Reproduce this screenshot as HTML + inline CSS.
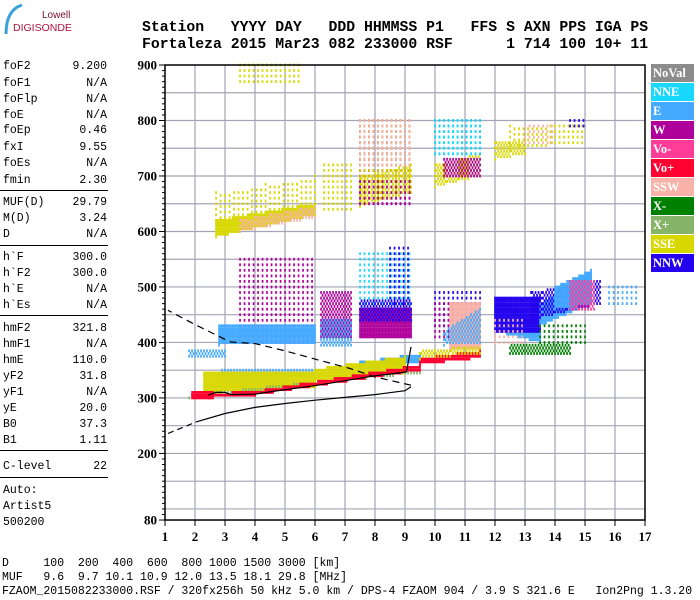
<!DOCTYPE html>
<html><head><meta charset="utf-8">
<style>
html,body{margin:0;padding:0;background:#fff;}
body{width:700px;height:600px;position:relative;overflow:hidden;font-family:"Liberation Mono",monospace;}
.hdr{position:absolute;left:142px;font-family:"Liberation Mono",monospace;font-weight:bold;font-size:14.8px;white-space:pre;color:#000;}
.lp{position:absolute;left:3px;width:104px;font-size:11.5px;height:14px;line-height:14px;color:#000;}
.lp span.v{position:absolute;right:0;}
.sep{position:absolute;left:0;width:108px;height:1px;background:#000;}
.bt{position:absolute;left:2px;font-size:11.5px;white-space:pre;color:#000;}
.leg{position:absolute;left:651px;width:43px;height:18px;color:#fff;font-family:"Liberation Serif",serif;font-weight:bold;font-size:12.5px;line-height:18px;padding-left:2px;box-sizing:border-box;}
</style></head>
<body>
<div style="position:absolute;left:0;top:0;width:70px;height:40px;">
<svg width="70" height="40"><path d="M22 5 Q6 10 6 34" stroke="#3aa0d8" stroke-width="3" fill="none"/></svg>
<div style="position:absolute;left:42px;top:10px;font-family:'Liberation Sans',sans-serif;font-size:10px;color:#7a1030;">Lowell</div>
<div style="position:absolute;left:13px;top:22px;font-family:'Liberation Sans',sans-serif;font-size:10.5px;color:#b01040;">DIGISONDE</div>
</div>
<div class="hdr" style="top:20px;">Station   YYYY DAY   DDD HHMMSS P1   FFS S AXN PPS IGA PS</div>
<div class="hdr" style="top:37px;">Fortaleza 2015 Mar23 082 233000 RSF      1 714 100 10+ 11</div>

<div id="leftpanel"></div>

<svg id="chart" width="700" height="600" style="position:absolute;left:0;top:0;"></svg>

<div id="legend"></div>

<div class="bt" style="top:557px;">D     100  200  400  600  800 1000 1500 3000 [km]</div>
<div class="bt" style="top:571px;">MUF   9.6  9.7 10.1 10.9 12.0 13.5 18.1 29.8 [MHz]</div>
<div class="bt" style="top:585px;">FZAOM_2015082233000.RSF / 320fx256h 50 kHz 5.0 km / DPS-4 FZAOM 904 / 3.9 S 321.6 E   Ion2Png 1.3.20</div>

<script>
// ---- data ----
const paramNames = ["foF2","foF1","foFlp","foE","foEp","fxI","foEs","fmin","MUF(D)","M(D)","D","h`F","h`F2","h`E","h`Es","hmF2","hmF1","hmE","yF2","yF1","yE","B0","B1","C-level"];
const paramValues = ["9.200","N/A","N/A","N/A","0.46","9.55","N/A","2.30","29.79","3.24","N/A","300.0","300.0","N/A","N/A","321.8","N/A","110.0","31.8","N/A","20.0","37.3","1.11","22"];
const paramY = [60,77,93,109,124,141,157,174,196,212,228,251,267,283,299,322,338,354,370,386,402,418,434,460];
const sepY = [190,245,315,450,477];

const seriesNames = ["NoVal","NNE","E","W","Vo-","Vo+","SSW","X-","X+","SSE","NNW"];
const seriesColors = ["#8c8c8c","#18d8ff","#44aaff","#b0009c","#ff3c98","#ff0030","#f8b2a8","#008000","#86b468","#d8d800","#2400ee"];

const xTicks = [1,2,3,4,5,6,7,8,9,10,11,12,13,14,15,16,17];
const yTicks = [900,800,700,600,500,400,300,200,80];
const yGrid = [850,800,750,700,650,600,550,500,450,400,350,300,250,200,150,100];

// echo clusters: series, f0, f1, lowH0, highH0, lowH1, highH1, density(1 dense..3 sparse)
const clSeries = ["SSE","SSE","W","SSE","SSW","SSE","SSE","W","SSE","SSW","SSE","W","NNE","SSE","SSE","SSW","NNW",
 "W","W","NNE","NNW","W","NNW","E","E","E","E","NNW","E","SSW","X-","X-","NNW","E","Vo-","E","NNW","W","SSW","E","NNE",
 "E","E","SSE","SSE","X+","Vo+","Vo+","Vo+","SSE","Vo+"];
const clF0 = [3.5,2.7,7.5,2.7,3.5,6.3,7.5,7.5,7.5,7.5,10.0,10.3,10.0,12.0,12.5,13.0,14.5,
 3.5,6.2,7.5,8.5,7.5,7.5,1.8,2.8,6.2,12.0,12.0,13.5,12.0,12.5,13.5,13.2,14.0,14.5,15.8,10.0,10.0,10.5,10.3,10.0,
 2.8,7.5,2.3,6.0,1.8,1.9,4.0,9.5,9.5,2.5];
const clF1 = [5.5,6.0,9.2,6.0,6.0,7.2,9.2,9.2,9.2,9.2,11.5,11.5,11.5,13.0,15.0,14.0,15.0,
 6.0,7.2,9.2,9.2,9.2,9.2,3.0,6.0,7.2,13.5,13.5,15.2,13.0,14.5,15.0,15.5,15.2,15.3,16.8,11.6,11.5,11.5,11.5,11.5,
 6.0,9.5,6.0,9.0,9.5,2.6,9.5,11.5,11.5,4.0];
const clLo0 = [870,590,650,620,600,640,645,650,700,720,680,700,740,730,750,760,790,
 400,410,460,470,410,440,375,395,395,420,420,430,400,380,400,440,460,460,470,430,410,385,395,740,
 335,350,308,330,300,300,305,360,370,300];
const clHi0 = [900,620,800,670,620,720,700,800,800,800,720,730,800,760,790,790,805,
 550,490,560,570,460,475,385,430,440,480,480,470,440,395,430,490,500,510,500,490,470,470,420,800,
 350,365,345,352,305,310,312,372,385,308];
const clLo1 = [870,630,650,650,625,640,670,650,700,720,700,700,740,740,760,760,790,
 400,410,460,470,410,440,375,400,395,400,420,470,400,380,400,470,470,460,470,430,410,390,400,740,
 340,365,320,345,345,300,350,372,380,305];
const clHi1 = [900,650,800,700,645,720,720,800,800,800,740,730,800,760,800,790,805,
 550,490,560,570,460,475,385,430,440,440,480,530,440,395,430,515,530,510,500,490,470,470,460,800,
 355,380,350,375,350,310,360,385,395,312];
const clDens = [3,1,3,3,2,3,2,3,3,3,2,2,3,2,3,3,3,
 3,2,3,3,1,2,2,1,2,1,1,1,3,2,3,2,1,2,3,3,3,1,2,3,
 2,1,1,1,2,1,1,1,2,1];

// N(h) profile (freq MHz, height km)
const profFreq = [2.05,3.0,4.0,5.0,6.0,7.0,8.0,9.0,9.2];
const profH = [257,272,283,290,296,301,306,313,320];
const profDashLowF = [1.1,2.05];
const profDashLowH = [236,257];
const profDashUpF = [9.2,8.0,7.17,6.0,5.0,4.0,3.17,1.94,1.1];
const profDashUpH = [323,338,353,370,385,398,401,434,458];
// h'F trace
const traceF = [2.44,2.7,3.0,3.2,4.0,5.0,6.0,7.0,8.0,8.5,9.05,9.2];
const traceH = [305,310,310,306,307,315,322,331,340,343,347,392];

// ---- scales ----
const X0 = 165, FX = 30, Y0 = 65, HY = 0.5549;
function xs(f){return X0 + (f-1)*FX;}
function ys(h){return Y0 + (900-h)*HY;}
const NS = "http://www.w3.org/2000/svg";
const svg = document.getElementById('chart');
function mk(tag, attrs, parent){const e=document.createElementNS(NS,tag);for(const k in attrs)e.setAttribute(k,attrs[k]);(parent||svg).appendChild(e);return e;}

// left panel
const lpDiv = document.getElementById('leftpanel');
paramNames.forEach((n,i)=>{
  const d=document.createElement('div');
  d.className='lp';
  d.style.top=paramY[i]+'px';
  
  
  d.innerHTML='<span>'+n+'</span><span class="v">'+paramValues[i]+'</span>';
  lpDiv.appendChild(d);
});
sepY.forEach(y=>{
  const s=document.createElement('div');
  s.className='sep';s.style.top=y+'px';
  
  
  lpDiv.appendChild(s);
});
["Auto:","Artist5","500200"].forEach((t,i)=>{
  const d=document.createElement('div');
  d.className='lp';d.style.top=(484+i*16)+'px';d.textContent=t;
  
  
  lpDiv.appendChild(d);
});

// grid
const gGrid = mk('g',{});


xTicks.forEach(f=>{ if(f>1&&f<17) mk('line',{x1:xs(f),x2:xs(f),y1:ys(900),y2:ys(80),stroke:'#a4a4b4','stroke-width':1.2},gGrid); });
yGrid.forEach(h=>{ mk('line',{x1:xs(1),x2:xs(17),y1:ys(h),y2:ys(h),stroke:'#a4a4b4','stroke-width':1.2},gGrid); });

// echoes
const gEch = mk('g',{});


for(let c=0;c<clSeries.length;c++){
  const col = seriesColors[seriesNames.indexOf(clSeries[c])];
  const g = mk('g',{fill:col},gEch);
  
  
  const nF = Math.round((clF1[c]-clF0[c])/0.05);
  for(let i=0;i<=nF;i++){
    const f = clF0[c]+i*0.05;
    const t = nF? i/nF : 0;
    const lo = clLo0[c]+(clLo1[c]-clLo0[c])*t;
    const hi = clHi0[c]+(clHi1[c]-clHi0[c])*t;
    let j=0;
    for(let h=Math.ceil(lo/5)*5; h<=hi; h+=5, j++){
      const d=clDens[c];
      if(d===2 && (i+j)%2!==0) continue;
      if(d===3 && !(i%3===0 && j%2===0)) continue;
      mk('rect',{x:(xs(f)-0.8).toFixed(1),y:(ys(h)-1.4).toFixed(1),width:1.7,height:2.8},g);
    }
  }
}

// profile
function pts(F,H){return F.map((f,i)=>xs(f).toFixed(1)+','+ys(H[i]).toFixed(1)).join(' ');}
const p1=mk('polyline',{points:pts(profFreq,profH),fill:'none',stroke:'#000','stroke-width':1.2});


const p2=mk('polyline',{points:pts(profDashLowF,profDashLowH),fill:'none',stroke:'#000','stroke-width':1.2,'stroke-dasharray':'6,4'});


const p3=mk('polyline',{points:pts(profDashUpF,profDashUpH),fill:'none',stroke:'#000','stroke-width':1.2,'stroke-dasharray':'7,5'});


const p4=mk('polyline',{points:pts(traceF,traceH),fill:'none',stroke:'#000','stroke-width':1.2});



// frame & axes
const fr=mk('rect',{x:xs(1),y:ys(900),width:xs(17)-xs(1),height:ys(80)-ys(900),fill:'none',stroke:'#000','stroke-width':1.5});


const gAx = mk('g',{});


for(let h=80;h<=900;h+=10){
  const major = yTicks.indexOf(h)>=0;
  mk('line',{x1:xs(1)-(major?6:3),x2:xs(1),y1:ys(h),y2:ys(h),stroke:'#000','stroke-width':1},gAx);
}
yTicks.forEach(h=>{
  const t=mk('text',{x:157,y:ys(h)+4.5,'text-anchor':'end','font-family':'Liberation Serif, serif','font-weight':'bold','font-size':13},gAx);
  
  
  t.textContent=h;
});
const gX = mk('g',{});


xTicks.forEach(f=>{
  mk('line',{x1:xs(f),x2:xs(f),y1:ys(80),y2:ys(80)+6,stroke:'#000','stroke-width':1},gX);
  const t=mk('text',{x:xs(f),y:541,'text-anchor':'middle','font-family':'Liberation Serif, serif','font-weight':'bold','font-size':13},gX);
  
  
  t.textContent=f;
});

// legend
const lg=document.getElementById('legend');
seriesNames.forEach((n,i)=>{
  const d=document.createElement('div');
  d.className='leg';
  d.style.top=(64+i*19)+'px';
  d.style.background=seriesColors[i];
  d.textContent=n;
  
  
  lg.appendChild(d);
});
</script>
</body></html>
